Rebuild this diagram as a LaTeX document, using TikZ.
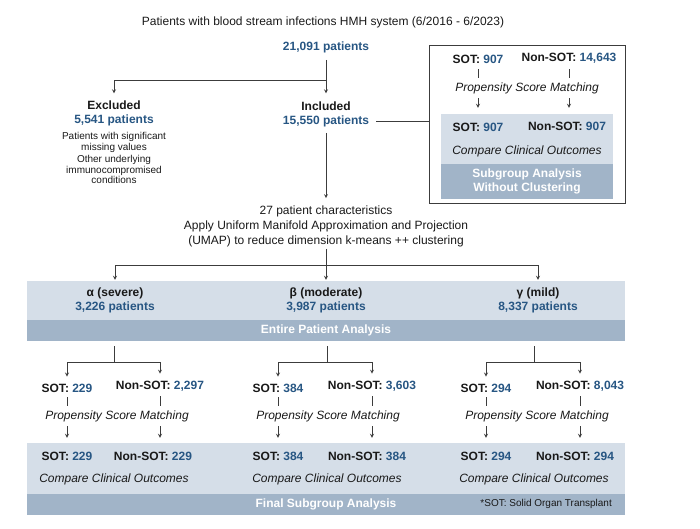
\documentclass[tikz,border=0pt]{standalone}
\usepackage{fontspec}
\setmainfont{Liberation Sans}
\definecolor{numblue}{HTML}{275683}
\definecolor{bandlight}{HTML}{D5DEE8}
\definecolor{banddark}{HTML}{A1B4C8}
\definecolor{linegray}{HTML}{3C3C3C}
\newcommand{\bl}[1]{\textcolor{numblue}{#1}}

\begin{document}
\begin{tikzpicture}[x=1pt, y=-1pt]
    \tikzstyle{txt}=[font=\fontsize{12}{15}\selectfont, align=center, inner sep=2pt, text=black!90]
    \tikzstyle{lbl}=[txt, font=\fontsize{12}{15}\selectfont\bfseries]
    \tikzstyle{smalltxt}=[txt, font=\fontsize{10}{10.8}\selectfont]
    \tikzstyle{cco}=[txt, font=\fontsize{12}{15}\selectfont\itshape]
    \tikzstyle{psm}=[cco, fill=white, inner ysep=4pt]
    \tikzstyle{band}=[fill=bandlight, inner sep=0, minimum width=598pt]
    \tikzstyle{dband}=[fill=banddark, inner sep=0, text=white, align=center, font=\fontsize{12}{14}\selectfont\bfseries]
    \tikzstyle{ln}=[draw=linegray, line width=0.8pt]
    \tikzstyle{arr}=[ln, ->, >=stealth, shorten >=1pt]

    \useasboundingbox (0,0) rectangle (700,529);

    \node [ln, minimum width=196pt, minimum height=158pt, inner sep=0] (sg) at (527,124) {};
    \node [fill=bandlight, inner sep=0, minimum width=172pt, minimum height=50pt] (sgl) at (527,139) {};
    \node [dband, minimum width=172pt, minimum height=35pt] (sgd) at (527,181.5) {Subgroup Analysis\\Without Clustering};
    \node [band, minimum height=39pt] (cl) at (326,300.5) {};
    \node [dband, minimum width=598pt, minimum height=21pt] (epa) at (326,330.5) {Entire Patient Analysis};
    \node [band, minimum height=51pt] (fb) at (326,468.5) {};
    \node [dband, minimum width=598pt, minimum height=21pt] (fsa) at (326,504.5) {Final Subgroup Analysis};
    \node [smalltxt, anchor=east] (fn) at (614,504) {*SOT: Solid Organ Transplant};

    \node [txt] (title) at (323,22) {Patients with blood stream infections HMH system (6/2016 - 6/2023)};
    \node [lbl] (tot) at (326,47) {\bl{21,091 patients}};
    \node [lbl] (exc) at (114,105) {Excluded};
    \node [lbl] (excn) at (114,120) {\bl{5,541 patients}};
    \node [smalltxt] (excd) at (114,158) {Patients with significant\\missing values\\[1.5pt]Other underlying\\immunocompromised\\conditions};
    \node [lbl] (inc) at (326,106) {Included};
    \node [lbl] (incn) at (326,121) {\bl{15,550 patients}};
    \node [txt] (umap) at (326,226) {27 patient characteristics\\Apply Uniform Manifold Approximation and Projection\\(UMAP) to reduce dimension k-means ++ clustering};

    \node [lbl] (s0) at (478,59) {SOT: \bl{907}};
    \node [lbl] (n0) at (569,58) {Non-SOT: \bl{14,643}};
    \node [lbl] (s0m) at (478,127) {SOT: \bl{907}};
    \node [lbl] (n0m) at (567,126) {Non-SOT: \bl{907}};
    \node [cco] (c0) at (527,151) {Compare Clinical Outcomes};

    \node [lbl] (alpha) at (115,293) {α (severe)};
    \node [lbl] (alphan) at (115,307) {\bl{3,226 patients}};
    \node [lbl] (beta) at (326,293) {β (moderate)};
    \node [lbl] (betan) at (326,307) {\bl{3,987 patients}};
    \node [lbl] (gamma) at (538,293) {γ (mild)};
    \node [lbl] (gamman) at (538,307) {\bl{8,337 patients}};

    \node [lbl] (sa) at (67,388) {SOT: \bl{229}};
    \node [lbl] (na) at (160,386) {Non-SOT: \bl{2,297}};
    \node [lbl] (sam) at (67,456) {SOT: \bl{229}};
    \node [lbl] (nam) at (153,456) {Non-SOT: \bl{229}};
    \node [cco] (ca) at (114,479) {Compare Clinical Outcomes};

    \node [lbl] (sb) at (278,388) {SOT: \bl{384}};
    \node [lbl] (nb) at (372,386) {Non-SOT: \bl{3,603}};
    \node [lbl] (sbm) at (278,456) {SOT: \bl{384}};
    \node [lbl] (nbm) at (367,456) {Non-SOT: \bl{384}};
    \node [cco] (cb) at (327,479) {Compare Clinical Outcomes};

    \node [lbl] (sc) at (486,388) {SOT: \bl{294}};
    \node [lbl] (nc) at (580,386) {Non-SOT: \bl{8,043}};
    \node [lbl] (scm) at (486,456) {SOT: \bl{294}};
    \node [lbl] (ncm) at (575,456) {Non-SOT: \bl{294}};
    \node [cco] (cc) at (534,479) {Compare Clinical Outcomes};

    \coordinate (s1) at (326,80);
    \coordinate (s2) at (326,265);
    \coordinate (ja) at (114,362);
    \coordinate (jb) at (327,362);
    \coordinate (jc) at (534,362);

    \draw [arr, shorten <=5pt, shorten >=6pt] (tot) -- (inc);
    \draw [arr, shorten >=5pt] (s1) -| (exc);
    \draw [ln, shorten <=5pt] (incn) -- (incn -| sg.west);
    \draw [arr, shorten <=4pt, shorten >=5pt] (incn) -- (umap);

    \draw [arr, shorten <=4pt, shorten >=6pt] (s0) -- (s0 |- sgl.north);
    \draw [arr, shorten <=4pt, shorten >=6pt] (n0) -- (n0 |- sgl.north);
    \node [psm] (p0) at (527,88) {Propensity Score Matching};

    \draw [ln] (umap) -- (s2);
    \draw [arr] (s2) -| (alpha |- cl.north);
    \draw [arr] (s2) -- (beta |- cl.north);
    \draw [arr] (s2) -| (gamma |- cl.north);

    \draw [ln, shorten <=5pt] (ja |- epa.south) -- (ja);
    \draw [arr, shorten >=5pt] (ja) -| (sa);
    \draw [arr, shorten >=5pt] (ja) -| (na);
    \draw [arr, shorten <=3pt, shorten >=5pt] (sa) -- (sa |- fb.north);
    \draw [arr, shorten <=3pt, shorten >=5pt] (na) -- (na |- fb.north);
    \node [psm] (pa) at (117,416) {Propensity Score Matching};

    \draw [ln, shorten <=5pt] (jb |- epa.south) -- (jb);
    \draw [arr, shorten >=5pt] (jb) -| (sb);
    \draw [arr, shorten >=5pt] (jb) -| (nb);
    \draw [arr, shorten <=3pt, shorten >=5pt] (sb) -- (sb |- fb.north);
    \draw [arr, shorten <=3pt, shorten >=5pt] (nb) -- (nb |- fb.north);
    \node [psm] (pb) at (328,416) {Propensity Score Matching};

    \draw [ln, shorten <=5pt] (jc |- epa.south) -- (jc);
    \draw [arr, shorten >=5pt] (jc) -| (sc);
    \draw [arr, shorten >=5pt] (jc) -| (nc);
    \draw [arr, shorten <=3pt, shorten >=5pt] (sc) -- (sc |- fb.north);
    \draw [arr, shorten <=3pt, shorten >=5pt] (nc) -- (nc |- fb.north);
    \node [psm] (pc) at (537,416) {Propensity Score Matching};
\end{tikzpicture}
\end{document}
